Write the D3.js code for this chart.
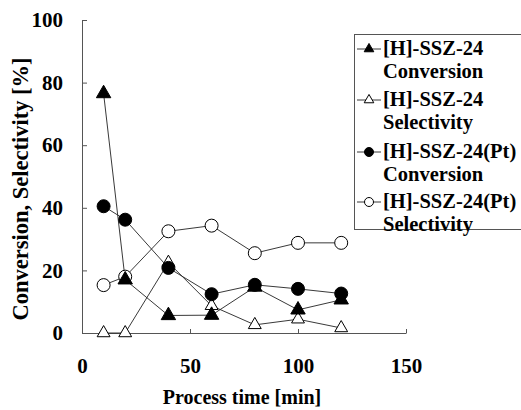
<!DOCTYPE html>
<html>
<head>
<meta charset="utf-8">
<script src="https://cdn.jsdelivr.net/npm/d3@7/dist/d3.min.js"></script>
<style>
  html, body { margin: 0; padding: 0; background: #fff; }
  svg { display: block; }
  text { font-family: "Liberation Serif", "Times New Roman", serif; font-weight: bold; fill: #000; }
</style>
</head>
<body>
<svg id="chart" width="521" height="410"></svg>
<script>
// ---- data ----
const times = [10, 20, 40, 60, 80, 100, 120];
const convH = [76.5, 17.0, 5.6, 5.7, 14.7, 7.4, 10.6];
const selH = [0, 0, 22.5, 8.7, 2.6, 4.4, 1.6];
const convPt = [40.5, 36.2, 20.8, 12.4, 15.4, 14.1, 12.6];
const selPt = [15.3, 18.0, 32.5, 34.3, 25.5, 28.8, 28.8];
const xTicks = [0, 50, 100, 150];
const yTicks = [0, 20, 40, 60, 80, 100];
const seriesNames = ["[H]-SSZ-24", "[H]-SSZ-24", "[H]-SSZ-24(Pt)", "[H]-SSZ-24(Pt)"];
const seriesKinds = ["Conversion", "Selectivity", "Conversion", "Selectivity"];

const series = [
  { values: convH, shape: "triangle", filled: true },
  { values: selH, shape: "triangle", filled: false },
  { values: convPt, shape: "circle", filled: true },
  { values: selPt, shape: "circle", filled: false }
];

const svg = d3.select("#chart");
const x = d3.scaleLinear().domain([0, 150]).range([82, 406]);
const y = d3.scaleLinear().domain([0, 100]).range([333, 20]);

// axes
const yAxis = d3.axisLeft(y).tickValues(yTicks).tickSizeInner(-5).tickSizeOuter(0).tickPadding(19);
const gy = svg.append("g").attr("transform", `translate(${x(0)},0)`).call(yAxis);
const xAxis = d3.axisBottom(x).tickValues(xTicks).tickSizeInner(-4).tickSizeOuter(0).tickPadding(25);
const gx = svg.append("g").attr("transform", `translate(0,${y(0)})`).call(xAxis);
[gx, gy].forEach(g => {
  g.selectAll("path.domain").attr("stroke", "#555").attr("stroke-width", 1);
  g.selectAll(".tick line").attr("stroke", "#555");
  g.selectAll(".tick text").style("font-size", "21px").style("font-family", '"Liberation Serif", serif').style("font-weight", "bold").attr("fill", "#000");
});
gx.selectAll(".tick").filter(d => d === 0).select("line").remove();

// titles
svg.append("text")
  .attr("x", 242).attr("y", 404)
  .attr("text-anchor", "middle")
  .style("font-size", "20px")
  .text("Process time [min]");
svg.append("text")
  .attr("transform", "translate(28,189) rotate(-90)")
  .attr("text-anchor", "middle")
  .style("font-size", "22.5px")
  .text("Conversion, Selectivity [%]");

// lines
const line = d3.line().x(d => x(d[0])).y(d => y(d[1]));
series.forEach(s => {
  const pts = times.map((t, i) => [t, s.values[i]]);
  svg.append("path").datum(pts)
    .attr("d", line)
    .attr("fill", "none")
    .attr("stroke", "#222")
    .attr("stroke-width", 0.9);
});

function drawMarker(g, shape, filled, cx, cy, big) {
  if (shape === "circle") {
    g.append("circle").attr("cx", cx).attr("cy", cy)
      .attr("r", big ? 6.5 : 4.5)
      .attr("fill", filled ? "#000" : "#fff")
      .attr("stroke", "#000").attr("stroke-width", 1);
  } else {
    g.append("path")
      .attr("d", d3.symbol().type(d3.symbolTriangle).size(big ? (filled ? 90 : 72) : 40)())
      .attr("transform", `translate(${cx},${cy})`)
      .attr("fill", filled ? "#000" : "#fff")
      .attr("stroke", "#000").attr("stroke-width", 1);
  }
}

// markers (open ones first, filled on top)
const order = [3, 1, 2, 0];
order.forEach(k => {
  const s = series[k];
  const g = svg.append("g");
  times.forEach((t, i) => drawMarker(g, s.shape, s.filled, x(t), y(s.values[i]), true));
});

// legend
const lg = svg.append("g");
lg.append("rect")
  .attr("x", 354.5).attr("y", 34.5)
  .attr("width", 180).attr("height", 195)
  .attr("fill", "#fff").attr("stroke", "#555").attr("stroke-width", 1);
const rowY = [49, 100, 152, 202];
series.forEach((s, i) => {
  const ly = rowY[i];
  lg.append("line").attr("x1", 357).attr("x2", 381).attr("y1", ly).attr("y2", ly)
    .attr("stroke", "#222").attr("stroke-width", 0.9);
  drawMarker(lg, s.shape, s.filled, 369, ly, false);
  lg.append("text").attr("x", 383).attr("y", ly + 6).style("font-size", "20.5px").text(seriesNames[i]);
  lg.append("text").attr("x", 383).attr("y", ly + 29).style("font-size", "20.5px").text(seriesKinds[i]);
});
</script>
</body>
</html>
